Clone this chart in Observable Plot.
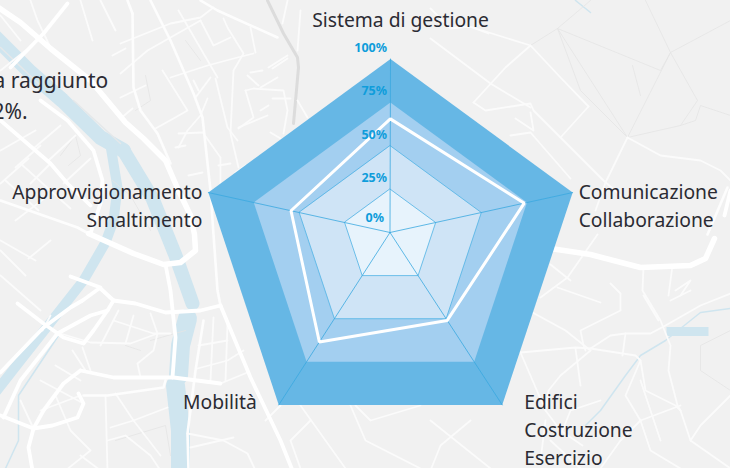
<!DOCTYPE html>
<html><head><meta charset="utf-8">
<style>html,body{margin:0;padding:0;background:#f1f1f1;overflow:hidden}</style>
<script src="https://cdn.jsdelivr.net/npm/d3@7"></script>
<script src="https://cdn.jsdelivr.net/npm/@observablehq/plot@0.6"></script>
</head><body>
<div id="chart"></div>
<script>
// ---- chart data ----
const categories = ["Sistema di gestione","Comunicazione\nCollaborazione","Edifici\nCostruzione\nEsercizio","Mobilità","Approvvigionamento\nSmaltimento"];
const scores = [65.5, 73.5, 51, 63.5, 54.5];
const levels = [100, 75, 50, 25];
const levelTicks = [100, 75, 50, 25];
const centreTick = [0];
const ringFills = ["#66b7e5", "#a3cff0", "#cfe4f6", "#e7f3fc"];
const spokeAngles = [0, 72.5, 144.2, 215.8, 287.5];
const backgroundWords = ["a raggiunto", "2%."];

// ---- base map traces (map coordinates) ----
const riverMain = [
  [[-10,32],[30,72],[62,100],[100,137],[123,150]]
];
const riverBranches = [
  [[123,150],[152,198],[175,255],[192,303]]
];
const riverSide = [
  [[110,145],[117,187],[113,220],[105,242],[83,280],[50,322],[20,360],[-5,392]]
];
const riverLakes = [
  [[187,318],[180,345],[178,375]],
  [[175,385],[180,430],[180,470]]
];
const riverThin = [
  [[730,308],[700,312],[665,340],[640,355],[625,375],[600,410],[585,425]],
  [[60,332],[18,395],[18,440],[5,468]],
  [[575,0],[590,12]]
];
const lakeSmall = [[[666,331],[708,331]]];
const riverStripe = [[[73,100],[120,143]],[[0,47],[40,85]]];
const majorRoads = [
  [[-5,5],[20,22],[50,48],[90,80],[125,122],[143,138],[165,160],[178,190],[190,215],[194,234],[195,250],[180,262],[163,264],[133,253],[88,233]],
  [[550,248],[590,254],[640,267],[690,265],[705,258],[714,238]]
];
const mediumRoads = [
  [[40,100],[67,120],[93,150],[102,180],[100,203],[90,233]],
  [[0,120],[50,163],[67,183],[90,205]],
  [[0,372],[43,327],[70,307],[82,300]],
  [[3,417],[20,380],[57,333],[90,315],[107,310]],
  [[17,303],[43,323],[63,337],[83,343],[93,330],[107,310],[113,300]],
  [[113,300],[135,303],[165,312],[200,310],[220,305]],
  [[70,276],[100,287],[82,300]],
  [[220,305],[250,377],[280,440],[292,470]],
  [[0,415],[33,428],[52,425],[77,417],[83,403],[78,393]],
  [[33,428],[28,447],[32,470]],
  [[165,264],[170,290],[175,337],[172,377]],
  [[100,288],[113,300]],
  [[67,3],[43,33],[10,67]],
  [[80,370],[113,377],[173,377],[220,383]],
  [[80,370],[63,383],[43,410],[33,428]],
  [[724,215],[730,190]]
];
const mainStreets = [
  [[132,13],[133,87],[140,110],[157,133],[170,163]],
  [[150,0],[170,40],[193,93],[202,117],[210,190],[213,234],[217,290],[220,305]],
  [[200,0],[217,10],[277,37]],
  [[203,320],[195,370],[187,433],[188,470]],
  [[83,395],[107,395],[163,387],[165,380]],
  [[127,0],[132,13]],
  [[0,200],[77,227],[88,233]],
  [[707,234],[727,187]]
];
const minorRoads = [
  [[120,43],[135,37],[170,23],[200,17],[213,7]],
  [[120,73],[147,50],[200,20]],
  [[120,97],[145,85]],
  [[200,20],[213,45],[230,37]],
  [[178,10],[217,77]],
  [[170,77],[207,65],[237,57],[253,53]],
  [[223,18],[227,27],[243,53],[233,70],[230,133],[238,167]],
  [[250,27],[255,52]],
  [[215,78],[227,127],[237,140]],
  [[210,77],[195,97]],
  [[193,80],[198,90]],
  [[207,98],[200,115],[187,130],[178,147]],
  [[178,133],[202,132]],
  [[175,147],[185,145]],
  [[162,70],[187,110],[173,118],[155,128]],
  [[203,133],[220,157],[220,190]],
  [[218,165],[230,163]],
  [[188,175],[202,172]],
  [[245,90],[253,117],[238,128]],
  [[245,90],[253,88],[283,90],[287,110],[283,133]],
  [[247,75],[258,85]],
  [[250,72],[262,70]],
  [[268,67],[287,55]],
  [[272,68],[287,58]],
  [[260,87],[277,77]],
  [[260,110],[268,105]],
  [[272,98],[290,98]],
  [[238,127],[267,115]],
  [[270,132],[280,138]],
  [[297,100],[307,117]],
  [[287,0],[282,23]],
  [[300,10],[297,50]],
  [[235,172],[245,165]],
  [[30,0],[37,20],[50,47]],
  [[80,0],[92,40]],
  [[0,15],[20,40]],
  [[0,70],[25,50]],
  [[112,55],[125,48]],
  [[100,0],[115,30]],
  [[120,118],[132,108]],
  [[35,130],[0,150]],
  [[63,183],[90,158]],
  [[48,160],[75,135]],
  [[33,148],[60,125]],
  [[30,183],[50,163]],
  [[15,167],[40,145]],
  [[0,183],[28,158]],
  [[5,180],[38,210]],
  [[20,163],[70,208]],
  [[15,220],[45,197]],
  [[0,240],[35,260]],
  [[0,250],[25,275]],
  [[28,258],[50,240]],
  [[42,330],[50,315]],
  [[0,275],[40,310]],
  [[60,333],[90,342],[130,343],[157,333]],
  [[113,320],[153,333],[170,333]],
  [[150,313],[157,333],[153,350],[137,363],[140,377]],
  [[118,310],[100,345]],
  [[133,315],[125,343]],
  [[82,347],[90,370]],
  [[105,395],[107,470]],
  [[115,393],[133,420],[110,427]],
  [[133,420],[167,407]],
  [[133,420],[160,455]],
  [[107,440],[125,435],[150,455],[160,470]],
  [[72,350],[85,370]],
  [[40,410],[80,395]],
  [[55,395],[70,430],[90,450],[65,470]],
  [[80,455],[100,470]],
  [[40,380],[83,403]],
  [[55,365],[80,380]],
  [[33,428],[20,400]],
  [[213,317],[210,380]],
  [[227,323],[225,380]],
  [[197,368],[227,360],[243,350]],
  [[198,345],[227,340]],
  [[220,383],[247,372]],
  [[187,433],[223,440],[247,453],[255,470]],
  [[190,447],[233,437]],
  [[280,405],[265,420]],
  [[300,405],[345,468]],
  [[350,405],[365,440],[420,468]],
  [[355,405],[370,420],[420,405]],
  [[430,420],[490,468]],
  [[310,420],[290,440],[300,468]],
  [[430,38],[490,83],[530,107]],
  [[469,26],[530,45],[560,77],[588,106]],
  [[430,8],[450,28],[469,26],[488,33]],
  [[530,45],[505,67],[473,102]],
  [[473,102],[485,110],[530,103],[533,110],[560,137],[603,180],[620,195]],
  [[560,137],[588,106]],
  [[627,137],[605,182],[595,210]],
  [[627,137],[660,155],[700,160],[720,170],[730,180]],
  [[510,135],[530,132],[570,178]],
  [[530,112],[533,130],[515,118]],
  [[597,234],[567,277],[540,297]],
  [[550,264],[570,280]],
  [[557,287],[600,302]],
  [[610,283],[620,293],[620,310],[580,330],[583,345],[585,350]],
  [[532,312],[565,330],[590,350]],
  [[520,352],[575,347],[590,348],[635,355],[640,360],[645,390],[675,405],[680,410]],
  [[520,352],[545,410]],
  [[590,350],[560,375],[548,390],[545,410],[560,430],[582,445]],
  [[590,348],[610,335],[625,333],[650,333],[665,325],[700,305],[730,293]],
  [[643,266],[642,290],[660,320],[670,345],[668,370],[677,405],[680,410]],
  [[672,265],[668,295]],
  [[643,295],[658,320]],
  [[625,333],[622,355]],
  [[640,360],[625,395],[640,420],[680,405]],
  [[730,395],[700,425],[690,440],[680,410]],
  [[640,420],[620,440],[600,468]],
  [[640,420],[650,450],[680,468]],
  [[600,400],[570,410],[560,435]],
  [[430,470],[440,445],[470,420]],
  [[640,380],[660,440]],
  [[690,440],[730,468]],
  [[575,348],[580,385]],
  [[550,440],[580,468]],
  [[545,420],[540,460]],
  [[675,290],[690,280],[680,295]],
  [[670,300],[690,290]]
];
const railTrace = [[267,0],[283,33],[297,57],[298,67],[293,123]];
const faintPaths = [
  [[557,28],[627,137]],
  [[557,28],[660,70],[670,52],[730,20]],
  [[670,52],[627,137]],
  [[670,52],[645,0]],
  [[670,52],[697,100],[680,125],[627,137]],
  [[557,28],[530,45]],
  [[557,28],[590,0]],
  [[557,28],[580,90],[625,135]],
  [[640,95],[632,65]],
  [[730,115],[700,105],[695,120],[680,125]],
  [[730,330],[700,345],[700,370],[730,390]],
  [[60,155],[75,135],[80,155],[68,165]],
  [[112,180],[130,195],[150,230]],
  [[145,75],[150,100],[135,110]],
  [[185,40],[200,60]],
  [[150,340],[185,330]],
  [[125,345],[140,350]],
  [[115,440],[165,425],[170,455]]
];

// ---- radar geometry ----
const pad = {cx: 390, cy: 249.5, r: 191, hubX: 389.5, hubY: 232};
const rad = (a) => a * Math.PI / 180;
const rx = (i, pct) => pad.hubX + (pct / 100) * (pad.cx + pad.r * Math.sin(rad(spokeAngles[i])) - pad.hubX);
const ry = (i, pct) => pad.hubY + (pct / 100) * (pad.cy - pad.r * Math.cos(rad(spokeAngles[i])) - pad.hubY);
const ring = (vals) => vals.map((v, i) => ({x: rx(i, v), y: ry(i, v)}));
const flat = (traces) => traces.flatMap((t, k) => t.map(([x, y]) => ({x, y, k})));
const lineOf = (traces, opts) => Plot.line(flat(traces), {x: "x", y: "y", z: "k", strokeLinejoin: "round", strokeLinecap: "round", curve: "linear", ...opts});

const labelOpts = [
  {anchor: "middle", dx: 10, dy: -52},
  {anchor: "start", dx: 6, dy: -13},
  {anchor: "start", dx: 22, dy: -16},
  {anchor: "end", dx: -22, dy: -16},
  {anchor: "end", dx: -6, dy: -13}
];

const river = "#cfe5ef";
const marks = [
  lineOf(riverMain, {stroke: river, strokeWidth: 15}),
  lineOf(riverBranches, {stroke: river, strokeWidth: 14}),
  lineOf(riverSide, {stroke: river, strokeWidth: 10}),
  lineOf(riverLakes, {stroke: river, strokeWidth: 19}),
  lineOf(riverThin, {stroke: river, strokeWidth: 1.5}),
  lineOf(lakeSmall, {stroke: river, strokeWidth: 9, strokeLinecap: "butt"}),
  lineOf(riverStripe, {stroke: "#e4e8ea", strokeWidth: 1.5}),
  lineOf(faintPaths, {stroke: "#e4e4e4", strokeWidth: 0.8}),
  lineOf([railTrace], {stroke: "#dcdcdc", strokeWidth: 3}),
  lineOf(minorRoads, {stroke: "#fbfbfb", strokeWidth: 1.8}),
  lineOf(mainStreets, {stroke: "#fdfdfd", strokeWidth: 2.6}),
  lineOf(mediumRoads, {stroke: "#ffffff", strokeWidth: 3.8}),
  lineOf(majorRoads, {stroke: "#ffffff", strokeWidth: 5.5}),
  Plot.text([backgroundWords[0]], {x: [-7], y: [81], text: (d) => d, textAnchor: "start", fontSize: 21, fill: "#2b2b33"}),
  Plot.text([backgroundWords[1]], {x: [-8], y: [112], text: (d) => d, textAnchor: "start", fontSize: 21, fill: "#2b2b33"})
];
levels.forEach((lv, j) => {
  marks.push(Plot.line(ring(categories.map(() => lv)), {x: "x", y: "y", fill: ringFills[j], stroke: lv <= 50 ? "#4fb2e4" : "none", strokeWidth: 0.8, curve: "linear-closed"}));
});
categories.forEach((c, i) => {
  marks.push(Plot.line([0, 100].map((p) => ({x: rx(i, p), y: ry(i, p)})), {x: "x", y: "y", stroke: "#3aa8e0", strokeWidth: 0.8}));
});
marks.push(Plot.line(ring(scores), {x: "x", y: "y", stroke: "#ffffff", strokeWidth: 3, strokeLinejoin: "miter", curve: "linear-closed"}));
marks.push(Plot.text(levelTicks, {
  x: () => pad.hubX, y: (d) => ry(0, d), text: (d) => d + "%",
  textAnchor: "end", dx: -3, dy: -11, fontSize: 12.5, fontWeight: 700, fill: "#0f9ddb"
}));
marks.push(Plot.text(centreTick, {
  x: () => pad.hubX, y: (d) => ry(0, d), text: (d) => d + "%",
  textAnchor: "end", dx: -6, dy: -15, fontSize: 12.5, fontWeight: 700, fill: "#0f9ddb"
}));
categories.forEach((c, i) => {
  const o = labelOpts[i];
  marks.push(Plot.text([c], {
    x: () => rx(i, 100), y: () => ry(i, 100), text: (d) => d,
    textAnchor: o.anchor, lineAnchor: "top", dx: o.dx, dy: o.dy,
    fontSize: 19.3, lineHeight: 1.45, fill: "#2b2b33"
  }));
});

const svg = Plot.plot({
  width: 730, height: 468, margin: 0,
  x: {domain: [0, 730], range: [0, 730], axis: null},
  y: {domain: [0, 468], range: [0, 468], axis: null},
  style: {background: "#f1f1f1", fontFamily: "'Noto Sans', sans-serif", display: "block"},
  marks
});
document.getElementById("chart").appendChild(svg);
</script>
</body></html>
